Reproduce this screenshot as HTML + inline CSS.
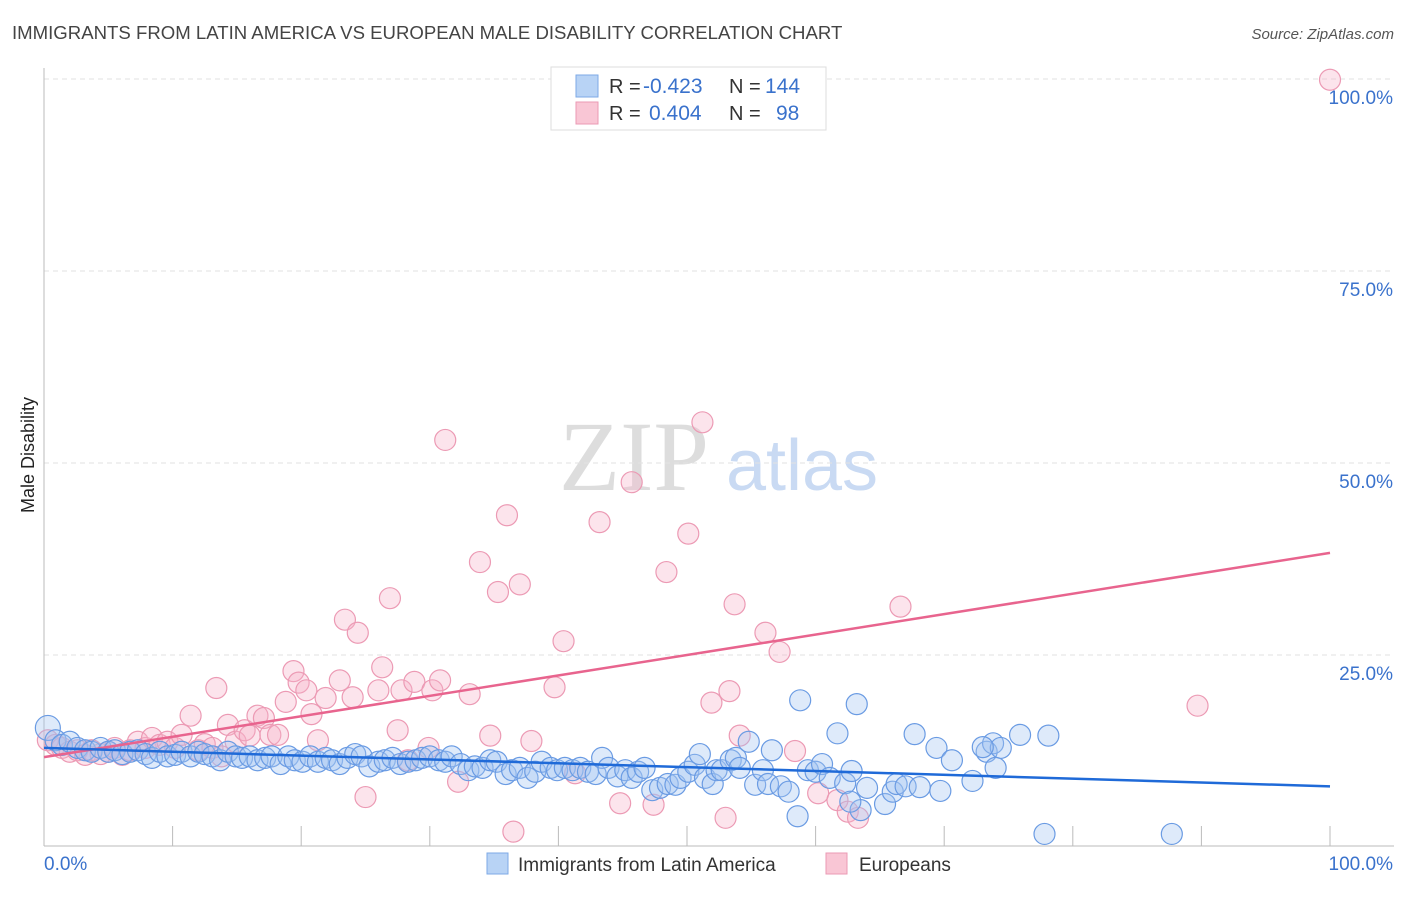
<!DOCTYPE html>
<html><head><meta charset="utf-8"><style>
body{margin:0;background:#fff;font-family:"Liberation Sans",sans-serif}
svg text{font-family:"Liberation Sans",sans-serif}
</style></head><body>
<svg id="chart" width="1406" height="892" xmlns="http://www.w3.org/2000/svg">
<text x="12" y="39" font-size="18.6" fill="#444">IMMIGRANTS FROM LATIN AMERICA VS EUROPEAN MALE DISABILITY CORRELATION CHART</text>
<text x="1394" y="39" font-size="15" fill="#555" font-style="italic" text-anchor="end">Source: ZipAtlas.com</text>
<g>
<text x="634" y="490" font-size="100" fill="#ddd" text-anchor="middle" style="font-family:'Liberation Serif',serif">ZIP</text>
<text x="802" y="490" font-size="72" fill="#c9daf3" text-anchor="middle">atlas</text>
</g>
<text transform="translate(34,455) rotate(-90)" font-size="18" fill="#222" text-anchor="middle">Male Disability</text>
<g id="grid"></g><g id="axes"></g><g id="pts"></g><g id="trend"></g>
<g>
<rect x="551" y="67" width="275" height="63" fill="#fff" stroke="#ddd"/>
<rect x="576" y="75" width="22" height="22" fill="#b8d3f5" stroke="#7ea9e6"/>
<rect x="576" y="102" width="22" height="22" fill="#f9c6d5" stroke="#eb9ab4"/>
<text x="609" y="93" font-size="20" fill="#333">R =</text>
<text x="643" y="93" font-size="21" fill="#3a72cc">-0.423</text>
<text x="729" y="93" font-size="20" fill="#333">N =</text>
<text x="765" y="93" font-size="21" fill="#3a72cc">144</text>
<text x="609" y="120" font-size="20" fill="#333">R =</text>
<text x="649" y="120" font-size="21" fill="#3a72cc">0.404</text>
<text x="729" y="120" font-size="20" fill="#333">N =</text>
<text x="776" y="120" font-size="21" fill="#3a72cc">98</text>
</g>
<g>
<rect x="487" y="853" width="21" height="21" fill="#b8d3f5" stroke="#7ea9e6"/>
<text x="518" y="871" font-size="19" fill="#333">Immigrants from Latin America</text>
<rect x="826" y="853" width="21" height="21" fill="#f9c6d5" stroke="#eb9ab4"/>
<text x="859" y="871" font-size="19" fill="#333">Europeans</text>
</g>
</svg>
<script>
const yTicks=[25,50,75,100];
const yTickLabels=["25.0%","50.0%","75.0%","100.0%"];
const xTickVals=[0,10,20,30,40,50,60,70,80,90,100];
const blueX=[0.3,0.9,1.4,2.0,2.6,3.2,3.7,4.4,5.0,5.5,6.1,6.7,7.3,7.9,8.4,9.0,9.6,10.2,10.7,11.4,12.0,12.5,13.1,13.7,14.3,14.9,15.4,16.0,16.6,17.2,17.7,18.4,19.0,19.5,20.1,20.7,21.3,21.9,22.4,23.0,23.6,24.2,24.7,25.3,26.0,26.5,27.1,27.7,28.3,28.9,29.4,30.0,30.7,31.2,31.7,32.4,33.0,33.5,34.1,34.7,35.2,35.9,36.4,37.0,37.6,38.2,38.7,39.4,39.9,40.5,41.1,41.7,42.3,42.9,43.4,43.9,44.6,45.2,45.7,46.2,46.7,47.3,47.9,48.5,49.1,49.5,50.1,50.6,51.0,51.4,52.0,52.3,52.7,53.4,53.8,54.1,54.8,55.3,55.9,56.3,56.6,57.3,57.9,58.8,59.4,60.0,60.5,61.1,61.7,62.3,62.8,63.2,63.5,64.0,65.4,66.0,66.3,67.0,67.7,68.1,69.7,69.4,70.6,72.2,73.3,73.8,74.4,74.0,75.9,78.1,77.8,87.7,58.6,62.7,73.0];
const blueY=[15.5,13.9,13.3,13.7,12.9,12.6,12.4,12.9,12.4,12.6,12.1,12.4,12.6,12.1,11.6,12.4,11.8,12.0,12.4,11.8,12.4,12.1,11.8,11.3,12.4,11.8,11.6,11.8,11.3,11.6,11.8,10.8,11.8,11.3,11.1,11.8,11.1,11.6,11.3,10.8,11.6,12.1,11.8,10.5,11.1,11.3,11.6,10.8,11.1,11.3,11.6,11.8,11.3,11.1,11.8,10.8,10.0,10.5,10.3,11.3,11.1,9.5,10.0,10.3,9.0,9.8,11.1,10.3,10.0,10.3,10.0,10.3,9.8,9.5,11.6,10.3,9.2,10.0,9.0,9.8,10.3,7.4,7.7,8.2,8.1,9.0,9.8,10.7,12.1,9.0,8.2,10.0,10.0,11.3,11.6,10.3,13.7,8.1,10.0,8.2,12.6,7.9,7.2,19.1,10.0,9.8,10.8,9.0,14.8,8.3,9.9,18.6,4.8,7.7,5.6,7.2,8.2,7.9,14.7,7.8,7.3,12.9,11.3,8.6,12.4,13.5,12.9,10.3,14.6,14.5,1.7,1.7,4.0,5.9,13.0];
const pinkX=[0.3,0.9,1.4,2.0,2.6,3.2,3.7,4.4,5.0,5.5,6.1,6.7,7.3,7.9,8.4,9.0,9.6,10.2,10.7,11.4,12.0,12.5,13.1,13.4,13.8,14.3,14.9,15.6,16.0,16.6,17.1,17.6,18.2,18.8,19.4,19.8,20.4,20.8,21.3,21.9,23.0,23.4,24.0,24.4,25.0,26.0,26.3,26.9,27.5,27.8,28.3,28.8,29.9,30.2,30.8,31.2,32.2,33.1,33.9,34.7,35.3,36.0,36.5,37.0,37.9,39.7,40.4,41.3,43.2,44.8,45.7,47.4,48.4,50.1,51.2,51.9,53.0,53.3,53.7,54.1,56.1,57.2,58.4,60.2,61.7,62.5,63.3,66.6,89.7,100.0];
const pinkY=[13.9,13.3,12.9,12.4,12.6,12.0,12.6,12.1,12.4,12.9,12.0,12.6,13.7,12.9,14.2,13.3,13.7,12.9,14.6,17.1,12.6,13.4,12.9,20.7,11.8,15.9,13.7,15.2,14.5,17.1,16.8,14.6,14.6,18.9,22.9,21.4,20.4,17.3,13.9,19.4,21.7,29.6,19.5,27.9,6.5,20.4,23.4,32.4,15.2,20.4,11.3,21.5,12.9,20.4,21.7,53.0,8.5,19.9,37.1,14.5,33.2,43.2,2.0,34.2,13.8,20.8,26.8,9.6,42.3,5.7,47.5,5.5,35.8,40.8,55.3,18.8,3.8,20.3,31.6,14.5,27.9,25.4,12.5,7.0,6.1,4.6,3.8,31.3,18.4,99.9];
const blueTrend=[12.9,7.9];
const pinkTrend=[11.7,38.3];
const NS="http://www.w3.org/2000/svg";
const X0=44,X1=1330,Y0=847,Y1=79;
function sx(v){return X0+(X1-X0)*v/100;}
function sy(v){return Y0-(Y0-Y1)*v/100;}
function mk(t,a,p){const e=document.createElementNS(NS,t);for(const k in a)e.setAttribute(k,a[k]);p.appendChild(e);return e;}
const grid=document.getElementById('grid'),axes=document.getElementById('axes'),pts=document.getElementById('pts'),tr=document.getElementById('trend');
yTicks.forEach((v,i)=>{
 const l=mk('line',{x1:X0,x2:1394,y1:sy(v),y2:sy(v),stroke:'#e2e2e2','stroke-dasharray':'5,4'},grid);
 
 
 const t=mk('text',{x:1393,y:sy(v)+25,'font-size':19,fill:'#3a72cc','text-anchor':'end'},axes);
 t.textContent=yTickLabels[i];
 
 
});
const ya=mk('line',{x1:X0,x2:X0,y1:68,y2:846,stroke:'#bbb'},axes);


const xa=mk('line',{x1:X0,x2:1394,y1:846,y2:846,stroke:'#bbb'},axes);


xTickVals.forEach(v=>{if(v===0)return;
 const l=mk('line',{x1:sx(v),x2:sx(v),y1:826,y2:846,stroke:'#bbb'},axes);
 
 
});
const xl=mk('text',{x:44,y:870,'font-size':19,fill:'#3a72cc'},axes);xl.textContent='0.0%';


const xr=mk('text',{x:1393,y:870,'font-size':19,fill:'#3a72cc','text-anchor':'end'},axes);xr.textContent='100.0%';


pinkX.forEach((v,i)=>{
 const c=mk('circle',{cx:sx(v),cy:sy(pinkY[i]),r:10.5,fill:'rgba(246,178,200,0.35)',stroke:'#ec9ab4','stroke-width':1.2},pts);
 
 
});
blueX.forEach((v,i)=>{
 const c=mk('circle',{cx:sx(v),cy:sy(blueY[i]),r:i===0?12.5:10.5,fill:'rgba(160,196,240,0.35)',stroke:'#6a9be3','stroke-width':1.2},pts);
 
 
});
const pt=mk('line',{x1:sx(0),y1:sy(pinkTrend[0]),x2:sx(100),y2:sy(pinkTrend[1]),stroke:'#e8648e','stroke-width':2.5},tr);


const bt=mk('line',{x1:sx(0),y1:sy(blueTrend[0]),x2:sx(100),y2:sy(blueTrend[1]),stroke:'#1f6ad8','stroke-width':2.5},tr);


</script>
</body></html>
